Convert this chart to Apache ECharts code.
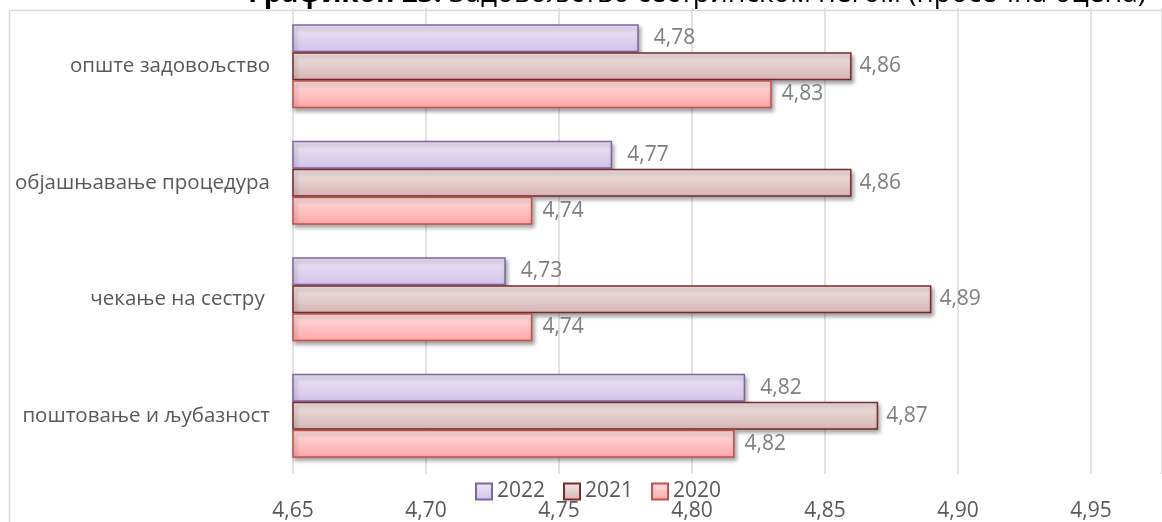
<!DOCTYPE html>
<html>
<head>
<meta charset="utf-8">
<script src="https://cdn.jsdelivr.net/npm/echarts@6/dist/echarts.min.js"></script>
<style>
  html, body { margin: 0; padding: 0; background: #fff; }
  #chart { width: 1162px; height: 522px; }
</style>
</head>
<body>
<div id="chart"></div>
<script>
// categories listed bottom -> top (value axis runs upward)
const categories = ['поштовање и љубазност', 'чекање на сестру ', 'објашњавање процедура', 'опште задовољство']
const values2022 = [4.82, 4.73, 4.77, 4.78]
const values2021 = [4.87, 4.89, 4.86, 4.86]
const values2020 = [4.816, 4.74, 4.74, 4.83]
const legendOrder = ['2022', '2021', '2020']

const font = '"Open Sans", "Noto Sans", sans-serif'
const fmt = v => Number(v).toFixed(2).replace('.', ',')

function grad(top, bottom) {
  return new echarts.graphic.LinearGradient(0, 0, 0, 1, [
    { offset: 0, color: top },
    { offset: 1, color: bottom },
  ])
}

function barSeries(name, data, fill, border, dist) {
  return {
    name,
    type: 'bar',
    data,
    barWidth: 28,
    barGap: '0%',
    itemStyle: {
      color: fill,
      borderColor: border,
      borderWidth: 1.5,
      shadowColor: 'rgba(0,0,0,0.35)',
      shadowBlur: 4,
      shadowOffsetX: 2,
      shadowOffsetY: 3,
    },
    label: {
      show: true,
      position: 'right',
      distance: dist,
      color: '#7f7f7f',
      fontSize: 21,
      fontFamily: font,
      formatter: p => fmt(p.value),
    },
  }
}

const chart = echarts.init(document.getElementById('chart'))
chart.setOption({
  animation: false,
  textStyle: { fontFamily: font },
  title: {
    text: '{b|Графикон 23.}{n| Задовољство сестринском негом (просечна оцена)}',
    left: 243,
    top: -25,
    textStyle: {
      rich: {
        b: { fontSize: 28, fontWeight: 'bold', color: '#000', fontFamily: font },
        n: { fontSize: 28, fontWeight: 'normal', color: '#000', fontFamily: font },
      },
    },
  },
  graphic: [{
    type: 'rect',
    left: 7,
    top: 8,
    shape: { width: 1400, height: 800 },
    style: { fill: 'none', stroke: '#d9d9d9', lineWidth: 1.5 },
    silent: true,
    z: -1,
  }],
  legend: {
    data: legendOrder,
    left: 475,
    top: 481,
    padding: 0,
    icon: 'rect',
    itemWidth: 16,
    itemHeight: 16,
    itemGap: 18,
    textStyle: { color: '#595959', fontSize: 21, fontFamily: font },
  },
  grid: { left: 293, right: 0, top: 8, bottom: 44, containLabel: false },
  xAxis: {
    type: 'value',
    min: 4.65,
    max: 4.9767,
    interval: 0.05,
    axisLine: { show: false },
    axisTick: { show: false },
    splitLine: { lineStyle: { color: '#d9d9d9', width: 1.5 } },
    axisLabel: {
      color: '#595959', fontSize: 21, margin: 27,
      showMaxLabel: false,
      formatter: v => fmt(v),
    },
  },
  yAxis: {
    type: 'category',
    data: categories,
    axisLine: { show: false },
    axisTick: { show: false },
    axisLabel: { color: '#595959', fontSize: 20.5, margin: 23 },
  },
  series: [
    barSeries('2022', values2022, grad('#ede7f6', '#d2c2e9'), '#8064a2', 15),
    barSeries('2021', values2021, grad('#f3e6e6', '#d6b3b3'), '#7a2a2a', 8),
    barSeries('2020', values2020, grad('#ffe0e0', '#ffa5a5'), '#c0504d', 10),
  ],
})
</script>
</body>
</html>
